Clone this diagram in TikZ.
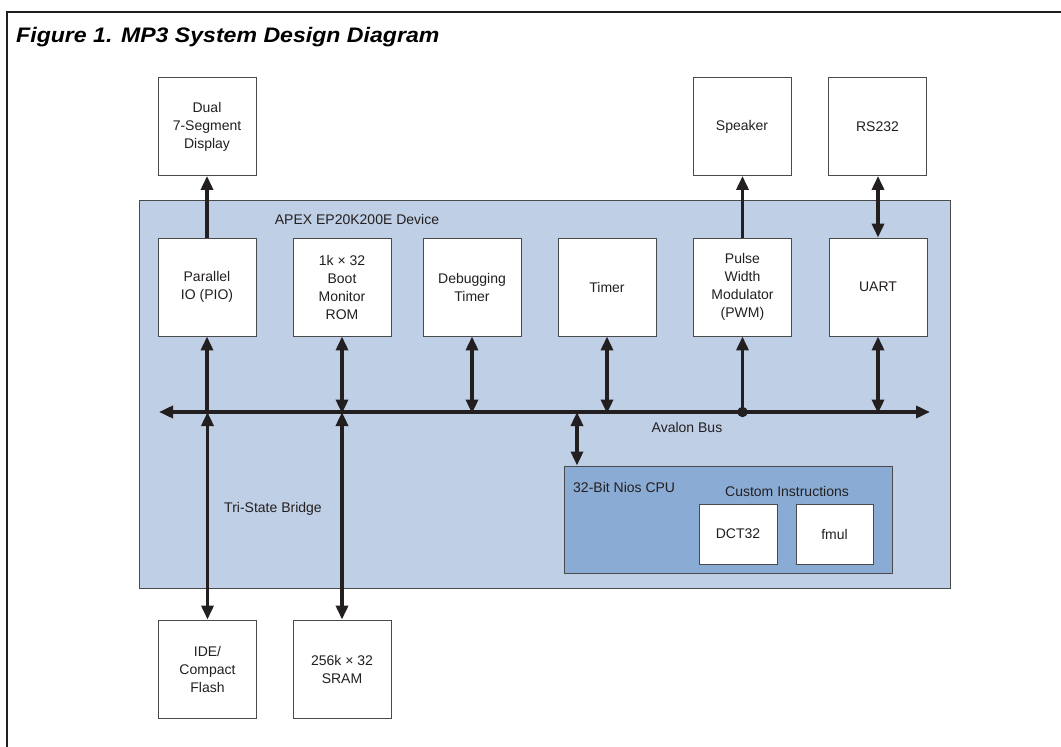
\documentclass[tikz,border=0pt]{standalone}
\usepackage{fontspec}
\setmainfont{Liberation Sans}
\usetikzlibrary{arrows.meta}
\definecolor{ink}{HTML}{231F20}
\definecolor{edge}{HTML}{4A4A4A}
\definecolor{devfill}{HTML}{BFCFE6}
\definecolor{cpufill}{HTML}{8AACD4}
\tikzset{
  unit/.style={draw=edge, line width=0.9pt, fill=white, minimum width=98pt,
    minimum height=98pt, inner sep=0pt, align=center, text=ink,
    font=\fontsize{14}{18}\selectfont},
  lbl/.style={text=ink, font=\fontsize{14}{18}\selectfont, inner sep=0pt},
  wire/.style={draw=ink, line width=3.4pt},
  tip/.tip={Triangle[length=14pt,width=12pt]},
}
\begin{document}
\begin{tikzpicture}[x=1pt,y=-1pt]
\useasboundingbox (0,0) rectangle (1061,747);

% outer frame and caption
\draw[ink, line width=2pt] (7,747) -- (7,12) -- (1061,12);
\node[anchor=base west, inner sep=0pt, text=black, xscale=1.1, transform shape]
  (title) at (16,42) {\fontsize{21}{24}\selectfont\bfseries\itshape Figure 1. MP3 System Design Diagram};

% FPGA device
\node[draw=edge, line width=1pt, fill=devfill, minimum width=811pt, minimum height=388pt,
  inner sep=0pt] (dev) at (544.5,394) {};
\node[lbl] (devlbl) at (357,219) {APEX EP20K200E Device};

% external devices
\node[unit] (disp) at (207,126.5) {Dual\\7-Segment\\Display};
\node[unit] (spk)  at (742,126.5) {Speaker};
\node[unit] (rs)   at (877.5,126.5) {RS232};

% on-chip peripherals
\node[unit] (pio)  at (207,287) {Parallel\\IO (PIO)};
\node[unit] (rom)  at (342,287) {1k × 32\\Boot\\Monitor\\ROM};
\node[unit] (dbg)  at (472,287) {Debugging\\Timer};
\node[unit] (tmr)  at (607,287) {Timer};
\node[unit] (pwm)  at (742.5,287) {Pulse\\Width\\Modulator\\(PWM)};
\node[unit] (uart) at (878,287) {UART};

% off-chip memory
\node[unit] (ide)  at (207.5,669) {IDE/\\Compact\\Flash};
\node[unit] (sram) at (342,669) {256k × 32\\SRAM};

% processor with custom instructions
\node[draw=edge, line width=1pt, fill=cpufill, minimum width=328pt, minimum height=107pt,
  inner sep=0pt] (cpu) at (728,519.5) {};
\node[lbl, anchor=west] (cpulbl) at (573,487) {32-Bit Nios CPU};
\node[lbl] (cilbl) at (787,491) {Custom Instructions};
\node[unit, minimum width=78pt, minimum height=60pt] (dct) at (738,534) {DCT32};
\node[unit, minimum width=77pt, minimum height=60pt] (fmul) at (834.5,534) {fmul};

% Avalon bus
\coordinate (busL) at (159,412);
\coordinate (busR) at (930,412);
\draw[wire, line width=3.8pt, {tip}-{tip}] (busL) -- (busR);
\node[lbl] (buslbl) at (687,427) {Avalon Bus};
\node[lbl] (tsb) at (273,509) {Tri-State Bridge};

% bus taps
\coordinate (tPIO)  at (207,412);
\coordinate (tROM)  at (342,412);
\coordinate (tDBG)  at (472,412);
\coordinate (tTMR)  at (607,412);
\coordinate (tPWM)  at (742.5,412);
\coordinate (tUART) at (878,412);
\coordinate (tCPU)  at (577,413);
\coordinate (tIDE)  at (207.5,413);
\coordinate (tSRAM) at (342,413);

\draw[wire, -{tip}] (tPIO) -- (pio.south);
\draw[wire, {tip}-{tip}] ([yshift=-1.5pt]tROM) -- (rom.south);
\draw[wire, {tip}-{tip}] ([yshift=-1.5pt]tDBG) -- (dbg.south);
\draw[wire, {tip}-{tip}] ([yshift=-1.5pt]tTMR) -- (tmr.south);
\draw[wire, -{tip}] (tPWM) -- (pwm.south);
\draw[wire, {tip}-{tip}] ([yshift=-1.5pt]tUART) -- (uart.south);
\fill[ink] (tPWM) circle (5.2pt);

\draw[wire, {tip}-{tip}] ([yshift=1pt]tCPU) -- (tCPU |- cpu.north);
\draw[wire, {tip}-{tip}] ([yshift=1pt]tIDE) -- (ide.north);
\draw[wire, {tip}-{tip}] ([yshift=1pt]tSRAM) -- (sram.north);

% links to the outside world
\draw[wire, -{tip}] (pio.north) -- (disp.south);
\draw[wire, -{tip}] (pwm.north) -- (pwm.north |- spk.south);
\draw[wire, {tip}-{tip}] (uart.north) -- (uart.north |- rs.south);
\end{tikzpicture}
\end{document}
